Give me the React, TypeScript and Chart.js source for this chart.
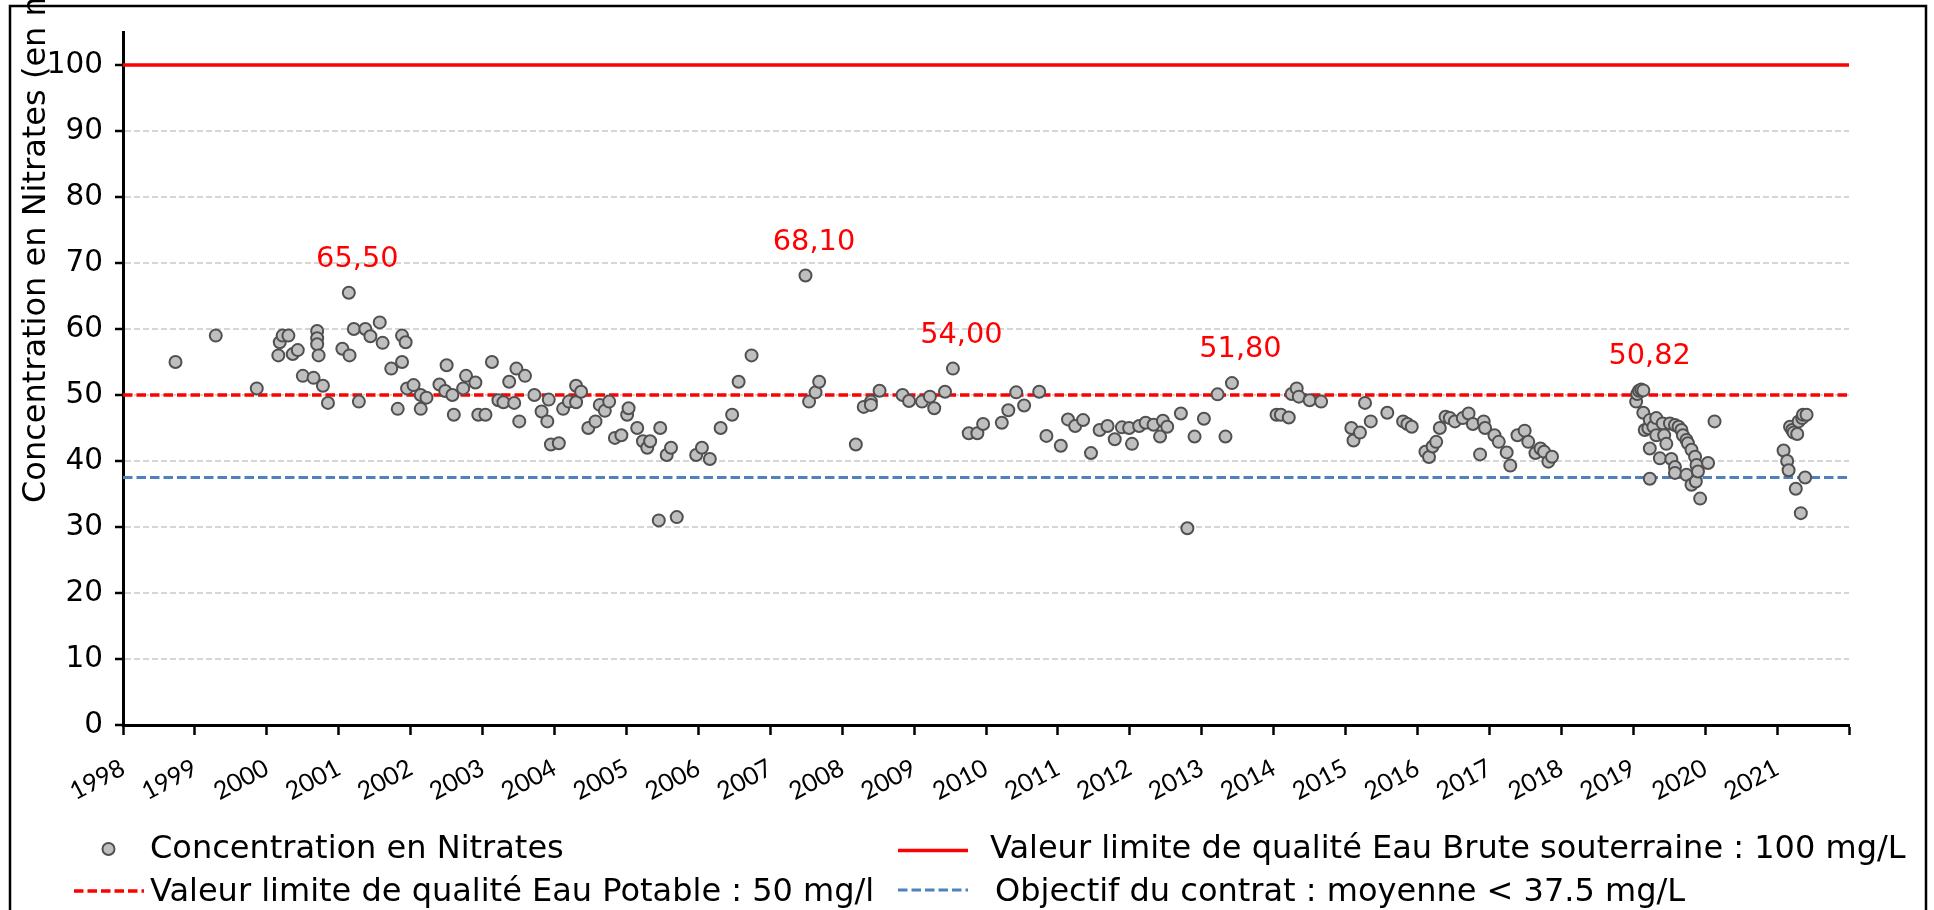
import React, { useEffect, useRef } from 'react';
import { Chart, registerables } from 'chart.js';

Chart.register(...registerables);

// ---- Data ----
const sampleDates: number[] = [
  1998.73, 1999.29, 1999.86, 2000.16, 2000.18, 2000.22, 2000.30, 2000.36, 2000.43, 2000.50,
  2000.65, 2000.70, 2000.70, 2000.70, 2000.72, 2000.78, 2000.85, 2001.05, 2001.14, 2001.15,
  2001.21, 2001.28, 2001.37, 2001.44, 2001.57, 2001.61, 2001.73, 2001.82, 2001.88, 2001.93,
  2001.88, 2001.95, 2002.04, 2002.14, 2002.14, 2002.22, 2002.40, 2002.50, 2002.48, 2002.58,
  2002.60, 2002.73, 2002.77, 2002.90, 2002.94, 2003.04, 2003.13, 2003.22, 2003.29, 2003.37,
  2003.44, 2003.47, 2003.51, 2003.59, 2003.72, 2003.82, 2003.92, 2003.90, 2003.95, 2004.06,
  2004.12, 2004.20, 2004.30, 2004.30, 2004.37, 2004.47, 2004.57, 2004.63, 2004.70, 2004.76,
  2004.84, 2004.93, 2005.01, 2005.03, 2005.15, 2005.23, 2005.29, 2005.33, 2005.45, 2005.47,
  2005.56, 2005.62, 2005.70, 2005.97, 2006.05, 2006.16, 2006.31, 2006.47, 2006.56, 2006.74,
  2007.49, 2007.54, 2007.63, 2007.68, 2008.19, 2008.30, 2008.40, 2008.40, 2008.52, 2008.84,
  2008.93, 2009.11, 2009.22, 2009.28, 2009.43, 2009.54, 2009.76, 2009.88, 2009.96, 2010.22,
  2010.31, 2010.42, 2010.53, 2010.74, 2010.84, 2011.04, 2011.14, 2011.24, 2011.35, 2011.46,
  2011.58, 2011.69, 2011.79, 2011.89, 2011.99, 2012.03, 2012.13, 2012.22, 2012.33, 2012.42,
  2012.46, 2012.52, 2012.71, 2012.80, 2012.90, 2013.03, 2013.22, 2013.33, 2013.42, 2014.04,
  2014.10, 2014.21, 2014.25, 2014.32, 2014.35, 2014.50, 2014.66, 2015.08, 2015.11, 2015.20,
  2015.27, 2015.35, 2015.58, 2015.80, 2015.86, 2015.92, 2016.11, 2016.16, 2016.21, 2016.26,
  2016.31, 2016.39, 2016.45, 2016.52, 2016.63, 2016.71, 2016.77, 2016.87, 2016.92, 2016.94,
  2017.07, 2017.13, 2017.24, 2017.29, 2017.39, 2017.49, 2017.54, 2017.64, 2017.71, 2017.76,
  2017.82, 2017.87,
  2019.04, 2019.055, 2019.08, 2019.11, 2019.14, 2019.14, 2019.16, 2019.21, 2019.23, 2019.23,
  2019.23, 2019.28, 2019.32, 2019.32, 2019.37, 2019.41, 2019.43, 2019.46, 2019.51, 2019.53,
  2019.58, 2019.58, 2019.58, 2019.63, 2019.67, 2019.69, 2019.74, 2019.74, 2019.76, 2019.81,
  2019.81, 2019.86, 2019.87, 2019.88, 2019.90, 2019.93, 2020.04, 2020.13,
  2021.09, 2021.14, 2021.16, 2021.18, 2021.21, 2021.23, 2021.26, 2021.28, 2021.30, 2021.33,
  2021.35, 2021.36, 2021.39, 2021.41,
];

const nitrateValues: number[] = [
  55.0, 59.0, 51.0, 56.0, 58.0, 59.0, 59.0, 56.2, 56.8, 52.9,
  52.6, 59.7, 58.6, 57.7, 56.0, 51.4, 48.8, 57.0, 65.5, 56.0,
  60.0, 49.0, 60.0, 58.9, 61.0, 57.9, 54.0, 47.9, 59.0, 58.0,
  55.0, 51.0, 51.5, 50.0, 47.9, 49.6, 51.6, 54.5, 50.6, 50.0,
  47.0, 51.0, 52.9, 51.9, 47.0, 47.0, 55.0, 49.2, 48.9, 52.0,
  48.8, 54.0, 46.0, 52.9, 50.0, 47.5, 49.3, 46.0, 42.5, 42.7,
  47.9, 49.0, 51.4, 48.9, 50.5, 45.0, 46.0, 48.5, 47.6, 49.0,
  43.5, 43.9, 47.0, 48.0, 45.0, 43.0, 42.0, 43.0, 31.0, 45.0,
  40.9, 42.0, 31.5, 40.9, 42.0, 40.3, 45.0, 47.0, 52.0, 56.0,
  68.1, 49.0, 50.4, 52.0, 42.5, 48.2, 49.0, 48.5, 50.65, 50.0,
  49.1, 49.0, 49.75, 48.0, 50.5, 54.0, 44.2, 44.2, 45.6, 45.8,
  47.7, 50.4, 48.4, 50.5, 43.8, 42.3, 46.3, 45.3, 46.2, 41.2,
  44.7, 45.3, 43.3, 45.1, 45.0, 42.6, 45.3, 45.8, 45.5, 43.7,
  46.1, 45.2, 47.2, 29.8, 43.7, 46.4, 50.1, 43.7, 51.8, 47.0,
  47.0, 46.6, 50.15, 51.0, 49.75, 49.2, 49.0, 45.0, 43.1, 44.3,
  48.8, 46.0, 47.3, 46.0, 45.6, 45.2, 41.4, 40.6, 42.2, 42.9,
  45.0, 46.7, 46.5, 46.0, 46.5, 47.2, 45.6, 41.0, 46.0, 45.0,
  43.9, 42.9, 41.3, 39.3, 43.9, 44.6, 42.9, 41.2, 41.9, 41.4,
  39.9, 40.65,
  49.0, 50.15, 50.65, 50.82, 50.7, 47.3, 44.7, 44.95, 46.2, 41.9,
  37.3, 45.2, 46.5, 43.9, 40.4, 45.7, 43.9, 42.6, 45.7, 40.3,
  45.45, 39.1, 38.2, 45.2, 44.7, 43.9, 43.2, 37.9, 42.7, 41.7,
  36.4, 40.65, 36.9, 39.4, 38.4, 34.3, 39.7, 46.0,
  41.6, 40.0, 38.6, 45.2, 44.7, 44.3, 35.8, 44.1, 46.0, 32.1,
  46.5, 47.0, 37.5, 47.0,
];

const peakDates: number[] = [2001.14, 2007.49, 2009.54, 2013.42, 2019.11];
const peakValues: number[] = [65.5, 68.1, 54.0, 51.8, 50.82];
const peakLabels: string[] = ['65,50', '68,10', '54,00', '51,80', '50,82'];

const yearTicks: number[] = [
  1998, 1999, 2000, 2001, 2002, 2003, 2004, 2005, 2006, 2007, 2008, 2009,
  2010, 2011, 2012, 2013, 2014, 2015, 2016, 2017, 2018, 2019, 2020, 2021, 2022,
];
const yearLabels: string[] = [
  '1998', '1999', '2000', '2001', '2002', '2003', '2004', '2005', '2006', '2007', '2008', '2009',
  '2010', '2011', '2012', '2013', '2014', '2015', '2016', '2017', '2018', '2019', '2020', '2021', '',
];
const valueTicks: number[] = [0, 10, 20, 30, 40, 50, 60, 70, 80, 90, 100];

const limitRawWater = 100;
const limitDrinkingWater = 50;
const contractObjective = 37.5;

const seriesLabel = 'Concentration en Nitrates';
const rawLimitLabel = 'Valeur limite de qualité Eau Brute souterraine : 100 mg/L';
const drinkingLimitLabel = 'Valeur limite de qualité Eau Potable : 50 mg/l';
const objectiveLabel = 'Objectif du contrat : moyenne < 37.5 mg/L';
const yAxisTitle = 'Concentration en Nitrates (en mg/L)';

const X_MIN = 1998;
const X_MAX = 2022;

const FONT = '"DejaVu Sans", sans-serif';
const RED = '#ff0000';
const BLUE = '#4f81bd';
const POINT_FILL = '#bfbfbf';
const POINT_EDGE = '#505050';

const overlayPlugin = {
  id: 'overlay',
  afterDraw(chart: any) {
    const ctx: CanvasRenderingContext2D = chart.ctx;
    const xs = chart.scales.x;
    const ys = chart.scales.y;
    ctx.save();

    // figure frame
    ctx.strokeStyle = '#000';
    ctx.lineWidth = 2.5;
    ctx.setLineDash([]);
    ctx.beginPath();
    ctx.moveTo(10, 940);
    ctx.lineTo(10, 6);
    ctx.lineTo(1926, 6);
    ctx.lineTo(1926, 940);
    ctx.stroke();

    // peak annotations
    ctx.fillStyle = RED;
    ctx.font = `28.8px ${FONT}`;
    ctx.textAlign = 'center';
    ctx.textBaseline = 'alphabetic';
    peakDates.forEach((d, i) => {
      const px = xs.getPixelForValue(d);
      const py = ys.getPixelForValue(peakValues[i]);
      ctx.fillText(peakLabels[i], px + 8.5, py - 26);
    });

    // y axis title
    ctx.save();
    ctx.translate(45, 503);
    ctx.rotate(-Math.PI / 2);
    ctx.fillStyle = '#000';
    ctx.font = `32px ${FONT}`;
    ctx.textAlign = 'left';
    ctx.textBaseline = 'alphabetic';
    ctx.fillText(yAxisTitle, 0, 0);
    ctx.restore();

    // legend
    ctx.font = `32px ${FONT}`;
    ctx.fillStyle = '#000';
    ctx.textAlign = 'left';
    ctx.textBaseline = 'alphabetic';
    // row 1 left: marker
    ctx.beginPath();
    ctx.arc(108.5, 849, 6, 0, Math.PI * 2);
    ctx.fillStyle = POINT_FILL;
    ctx.fill();
    ctx.lineWidth = 2;
    ctx.strokeStyle = POINT_EDGE;
    ctx.stroke();
    ctx.fillStyle = '#000';
    ctx.fillText(seriesLabel, 150, 857.5);
    // row 2 left: red dashed
    ctx.strokeStyle = RED;
    ctx.lineWidth = 3.5;
    ctx.setLineDash([9.5, 4]);
    ctx.beginPath();
    ctx.moveTo(74, 891);
    ctx.lineTo(144, 891);
    ctx.stroke();
    ctx.fillText(drinkingLimitLabel, 150, 901);
    // row 1 right: red solid
    ctx.setLineDash([]);
    ctx.strokeStyle = RED;
    ctx.beginPath();
    ctx.moveTo(898, 850.5);
    ctx.lineTo(968, 850.5);
    ctx.stroke();
    ctx.fillText(rawLimitLabel, 990, 857.5);
    // row 2 right: blue dashed
    ctx.strokeStyle = BLUE;
    ctx.lineWidth = 3;
    ctx.setLineDash([9.5, 4]);
    ctx.beginPath();
    ctx.moveTo(898, 890);
    ctx.lineTo(968, 890);
    ctx.stroke();
    ctx.setLineDash([]);
    ctx.fillText(objectiveLabel, 995, 901);

    ctx.restore();
  },
};

export default function App() {
  const canvasRef = useRef<HTMLCanvasElement | null>(null);

  useEffect(() => {
    const canvas = canvasRef.current;
    if (!canvas) return;

    const points = sampleDates.map((d, i) => ({ x: d, y: nitrateValues[i] }));
    const hLine = (v: number) => [
      { x: X_MIN, y: v },
      { x: X_MAX, y: v },
    ];

    const chart = new Chart(canvas, {
      type: 'scatter',
      data: {
        datasets: [
          {
            label: seriesLabel,
            data: points,
            pointRadius: 6,
            pointHoverRadius: 6,
            pointBackgroundColor: POINT_FILL,
            pointBorderColor: POINT_EDGE,
            pointBorderWidth: 2,
            showLine: false,
          },
          {
            label: rawLimitLabel,
            data: hLine(limitRawWater),
            showLine: true,
            borderColor: RED,
            borderWidth: 3.5,
            pointRadius: 0,
            fill: false,
          },
          {
            label: drinkingLimitLabel,
            data: hLine(limitDrinkingWater),
            showLine: true,
            borderColor: RED,
            borderWidth: 3.5,
            borderDash: [9.5, 4],
            pointRadius: 0,
            fill: false,
          },
          {
            label: objectiveLabel,
            data: hLine(contractObjective),
            showLine: true,
            borderColor: BLUE,
            borderWidth: 3,
            borderDash: [9.5, 4],
            pointRadius: 0,
            fill: false,
          },
        ],
      } as any,
      options: {
        animation: false,
        responsive: false,
        devicePixelRatio: 1,
        events: [],
        layout: { padding: { top: 32, right: 85, left: 0, bottom: 0 } },
        plugins: {
          legend: { display: false },
          tooltip: { enabled: false },
          title: { display: false },
        },
        scales: {
          x: {
            type: 'linear',
            position: 'bottom',
            min: X_MIN,
            max: X_MAX,
            afterBuildTicks: (scale: any) => {
              scale.ticks = yearTicks.map((v) => ({ value: v }));
            },
            afterFit: (scale: any) => {
              scale.height = 185;
            },
            ticks: {
              autoSkip: false,
              minRotation: 28,
              maxRotation: 28,
              padding: 18,
              color: '#000',
              font: { family: 'Lato', size: 25 },
              callback: (value: any) => {
                const idx = yearTicks.indexOf(Number(value));
                return idx >= 0 ? yearLabels[idx] : '';
              },
            },
            grid: {
              display: true,
              drawOnChartArea: false,
              drawTicks: true,
              tickLength: 10,
              tickColor: '#000',
              tickWidth: 2.5,
            },
            border: { display: true, color: '#000', width: 3 },
          },
          y: {
            type: 'linear',
            position: 'left',
            min: 0,
            max: 105,
            afterBuildTicks: (scale: any) => {
              scale.ticks = valueTicks.map((v) => ({ value: v }));
            },
            afterFit: (scale: any) => {
              scale.width = 123;
            },
            ticks: {
              padding: 12,
              color: '#000',
              font: { family: 'DejaVu Sans', size: 29.5 },
              callback: (value: any) => String(value),
            },
            grid: {
              display: true,
              drawOnChartArea: true,
              drawTicks: true,
              tickLength: 8,
              color: '#d6d6d6',
              lineWidth: 2,
              tickColor: '#000',
              tickWidth: 2.5,
            },
            border: { display: true, color: '#000', width: 3, dash: [6, 3] },
          },
        },
      } as any,
      plugins: [overlayPlugin],
    });

    return () => {
      chart.destroy();
    };
  }, []);

  return (
    <div style={{ position: 'absolute', left: 0, top: 0, width: 1934, height: 910, background: '#fff' }}>
      <canvas ref={canvasRef} width={1934} height={910} style={{ display: 'block', width: 1934, height: 910 }} />
    </div>
  );
}
